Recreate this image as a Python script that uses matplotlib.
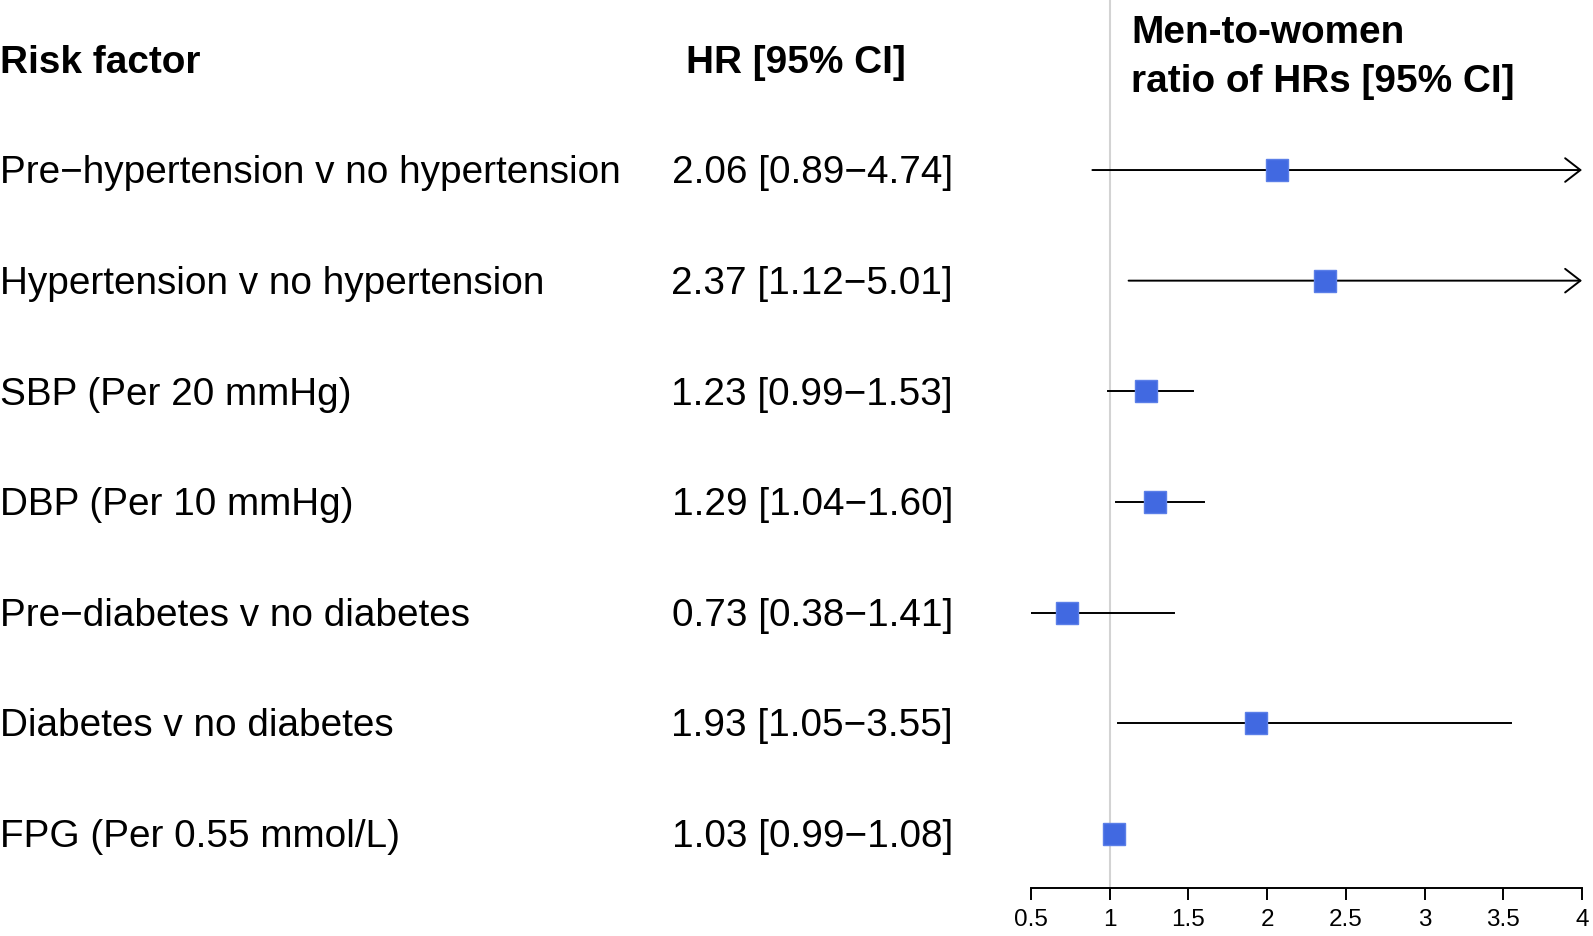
import matplotlib
matplotlib.use('Agg')
import matplotlib.pyplot as plt
import matplotlib.transforms as mtransforms

plt.rcParams['font.family'] = ['Liberation Sans', 'DejaVu Sans']

# --- data ---
labels = ['Pre\u2212hypertension v no hypertension',
          'Hypertension v no hypertension',
          'SBP (Per 20 mmHg)',
          'DBP (Per 10 mmHg)',
          'Pre\u2212diabetes v no diabetes',
          'Diabetes v no diabetes',
          'FPG (Per 0.55 mmol/L)']
hr = [2.06, 2.37, 1.23, 1.29, 0.73, 1.93, 1.03]
lo = [0.89, 1.12, 0.99, 1.04, 0.38, 1.05, 0.99]
hi = [4.74, 5.01, 1.53, 1.60, 1.41, 3.55, 1.08]
xticks = [0.5, 1, 1.5, 2, 2.5, 3, 3.5, 4]
xticklabels = ['0.5', '1', '1.5', '2', '2.5', '3', '3.5', '4']
xmin, xmax = 0.5, 4

fig = plt.figure(figsize=(15.93, 9.36), dpi=100)
ax = fig.add_axes([0.6472, 0.0513, 0.3459, 0.9487])
ax.set_xlim(xmin, xmax)
ax.set_ylim(6.49, -1.537)

blue = '#4169E1'
ax.axvline(1, color='#d3d3d3', lw=1.5, zorder=0)

for i in range(len(labels)):
    if hi[i] > xmax:
        # CI runs off the scale: draw an open arrow to the axis end
        ax.annotate('', xy=(xmax, i), xytext=(lo[i], i),
                    arrowprops=dict(arrowstyle='->,head_length=1.1,head_width=0.85',
                                    color='black', lw=1.4, shrinkA=0, shrinkB=0),
                    annotation_clip=False)
    else:
        ax.plot([lo[i], hi[i]], [i, i], color='black', lw=1.4, zorder=1)
    ax.plot(hr[i], i, marker='s', ms=16.5, color=blue, mec='#5b7fe8', mew=1, zorder=3)

for s in ['top', 'right', 'left']:
    ax.spines[s].set_visible(False)
ax.spines['bottom'].set_linewidth(1.4)
ax.spines['bottom'].set_bounds(xmin, xmax)
ax.set_yticks([])
ax.set_xticks(xticks)
ax.set_xticklabels(xticklabels, fontsize=17.5)
ax.tick_params(axis='x', direction='out', length=8.6, width=1.4, pad=6.5)

# --- text columns ---
tr = mtransforms.blended_transform_factory(fig.transFigure, ax.transData)
fs = 27.9
dy = 0.03
for i in range(len(labels)):
    ax.text(0.0, i + dy, labels[i], transform=tr, fontsize=fs, ha='left', va='center')
    ax.text(953 / 1593, i + dy, f'{hr[i]:.2f} [{lo[i]:.2f}\u2212{hi[i]:.2f}]',
            transform=tr, fontsize=fs, ha='right', va='center')

ax.text(0.0, -0.97, 'Risk factor', transform=tr, fontsize=fs,
        fontweight='bold', ha='left', va='center')
ax.text(796 / 1593, -0.97, 'HR [95% CI]', transform=tr, fontsize=fs,
        fontweight='bold', ha='center', va='center')
ax.text(1131 / 1593, -1.24, 'Men-to-women', transform=tr, fontsize=fs,
        fontweight='bold', ha='left', va='center')
ax.text(1131 / 1593, -0.80, 'ratio of HRs [95% CI]', transform=tr, fontsize=fs,
        fontweight='bold', ha='left', va='center')

plt.savefig('out.png', dpi=100)
